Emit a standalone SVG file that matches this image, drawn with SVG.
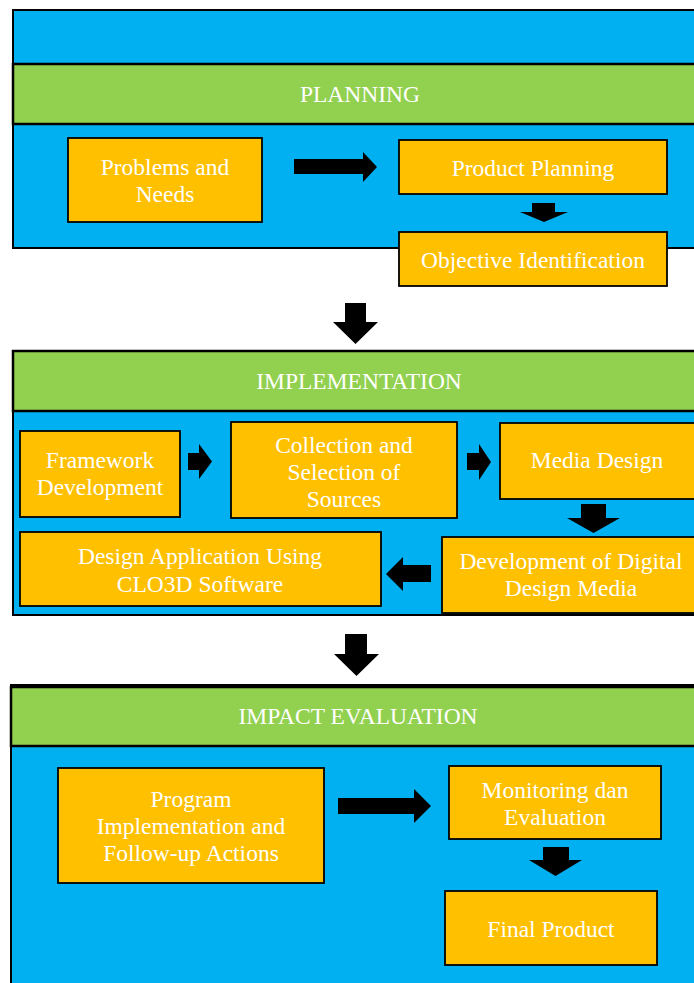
<svg xmlns="http://www.w3.org/2000/svg" width="694" height="983" viewBox="0 0 694 983">
<style>
.panel{fill:#00B0F0;stroke:#000;stroke-width:2}
.band{fill:#92D050;stroke:#000;stroke-width:2.5}
.box{fill:#FFC000;stroke:#000;stroke-width:1.8}
.t{font-family:"Liberation Serif","Times New Roman",serif;font-size:23.5px;fill:#fff;text-anchor:middle}
.arr{fill:#000}
</style>
<rect width="694" height="983" fill="#fff"/>
<g id="phase-planning">
<rect class="panel" x="13" y="10" width="700" height="238"/>
<rect class="band" x="13" y="64" width="700" height="60"/>
<text class="t" x="360" y="102">PLANNING</text>
</g>
<g id="node-problems">
<rect class="box" x="68" y="138" width="194" height="84"/>
<text class="t" x="165" y="175">Problems and</text>
<text class="t" x="165" y="202">Needs</text>
</g>
<g id="node-product-planning">
<rect class="box" x="399" y="140" width="268" height="54"/>
<text class="t" x="533" y="176">Product Planning</text>
</g>
<g id="node-objective">
<rect class="box" x="399" y="232" width="268" height="54"/>
<text class="t" x="533" y="268">Objective Identification</text>
</g>
<g id="phase-implementation">
<rect class="panel" x="13" y="351" width="700" height="264"/>
<rect class="band" x="13" y="351" width="700" height="60"/>
<text class="t" x="359" y="389">IMPLEMENTATION</text>
</g>
<g id="node-framework">
<rect class="box" x="20" y="431" width="160" height="86"/>
<text class="t" x="100" y="468">Framework</text>
<text class="t" x="100" y="495">Development</text>
</g>
<g id="node-collection">
<rect class="box" x="231" y="422" width="226" height="96"/>
<text class="t" x="344" y="453">Collection and</text>
<text class="t" x="344" y="480">Selection of</text>
<text class="t" x="344" y="507">Sources</text>
</g>
<g id="node-media-design">
<rect class="box" x="500" y="423" width="210" height="76"/>
<text class="t" x="597" y="468">Media Design</text>
</g>
<g id="node-digital-media">
<rect class="box" x="442" y="537" width="270" height="76"/>
<text class="t" x="571" y="569">Development of Digital</text>
<text class="t" x="571" y="596">Design Media</text>
</g>
<g id="node-clo3d">
<rect class="box" x="20" y="532" width="361" height="74"/>
<text class="t" x="200" y="564">Design Application Using</text>
<text class="t" x="200" y="592">CLO3D Software</text>
</g>
<g id="phase-impact">
<rect class="panel" x="11" y="685" width="702" height="320" stroke-width="3"/>
<rect class="band" x="11" y="687" width="702" height="59"/>
<text class="t" x="358" y="724">IMPACT EVALUATION</text>
</g>
<g id="node-program">
<rect class="box" x="58" y="768" width="266" height="115"/>
<text class="t" x="191" y="807">Program</text>
<text class="t" x="191" y="834">Implementation and</text>
<text class="t" x="191" y="861">Follow-up Actions</text>
</g>
<g id="node-monitoring">
<rect class="box" x="449" y="766" width="212" height="73"/>
<text class="t" x="555" y="798">Monitoring dan</text>
<text class="t" x="555" y="825">Evaluation</text>
</g>
<g id="node-final">
<rect class="box" x="445" y="891" width="212" height="74"/>
<text class="t" x="551" y="937">Final Product</text>
</g>
<g id="connectors">
<polygon class="arr" points="294,159 363,159 363,152 377,167 363,182 363,174 294,174"/>
<polygon class="arr" points="532,203 555,203 555,212 568,212 544,222 520,212 532,212"/>
<polygon class="arr" points="345,303 366,303 366,322 378,322 355.5,344 333,322 345,322"/>
<polygon class="arr" points="188,453 199,453 199,444 212,461.5 199,479 199,470 188,470"/>
<polygon class="arr" points="467,453 479,453 479,444 491,462 479,480 479,470 467,470"/>
<polygon class="arr" points="581,504 606,504 606,518 620,518 593.5,533 567,518 581,518"/>
<polygon class="arr" points="431,565 403,565 403,557 386,574 403,591 403,582 431,582"/>
<polygon class="arr" points="345,634 367,634 367,654 379,654 356.5,676 334,654 345,654"/>
<polygon class="arr" points="338,798 414,798 414,789 431,806 414,823 414,814 338,814"/>
<polygon class="arr" points="543,847 569,847 569,860 582,860 555.5,876 529,860 543,860"/>
</g>
</svg>
